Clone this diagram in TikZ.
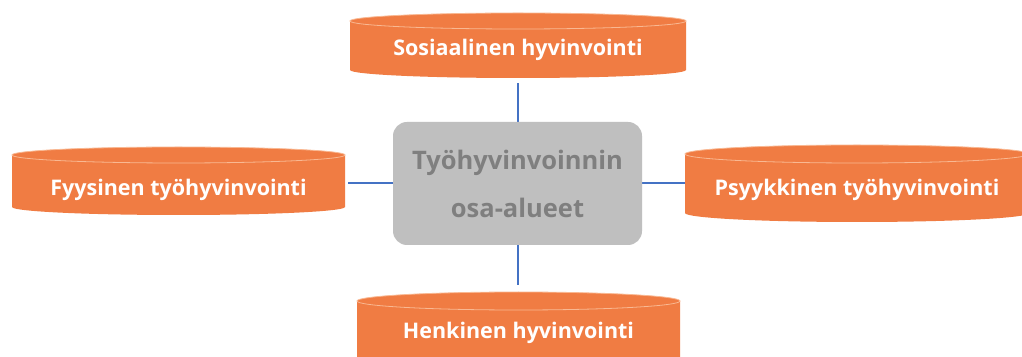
\documentclass[tikz,border=0pt]{standalone}
\usepackage{fontspec}
\setmainfont{Open Sans}
\usetikzlibrary{backgrounds}
\definecolor{cylorange}{HTML}{F07C43}
\definecolor{cylrim}{HTML}{F9B892}
\definecolor{boxgray}{HTML}{BFBFBF}
\definecolor{boxtext}{HTML}{7F7F7F}
\definecolor{linkblue}{HTML}{4472C4}
\tikzset{
  cyltext/.style={inner sep=0pt, text=white, font=\bfseries\fontsize{21.5}{24}\selectfont},
  centerbox/.style={rounded corners=14pt, fill=boxgray, text=boxtext, align=center,
    font=\bfseries\fontsize{25.5}{48}\selectfont, minimum width=249pt, minimum height=123pt, inner sep=0pt},
  link/.style={draw=linkblue, line width=2pt},
  cylbody/.style={fill=cylorange},
  cylrimline/.style={draw=cylrim, line width=0.8pt}
}
% #1 left x, #2 right x, #3 top ellipse centre y, #4 bottom ellipse centre y, #5 y radius
\newcommand\mycylinder[5]{%
  \fill[cylbody] (#1,#3) -- (#1,#4)
    arc[start angle=180, end angle=360, x radius={(#2-#1)/2}, y radius=#5]
    -- (#2,#3)
    arc[start angle=0, end angle=180, x radius={(#2-#1)/2}, y radius=#5] -- cycle;
  \draw[cylrimline] ({(#1+#2)/2},#3) ellipse[x radius={(#2-#1)/2}, y radius=#5];
}
\begin{document}
\begin{tikzpicture}[x=1pt,y=1pt]
\path[use as bounding box, clip] (0,0) rectangle (1022,356);

\node[centerbox] (ctr) at (517.5,172.5) {Työhyvinvoinnin\\osa-alueet};

\node[cyltext, minimum width=336pt, minimum height=56pt] (soc) at (518,306) {Sosiaalinen hyvinvointi};
\node[cyltext, minimum width=333pt, minimum height=50pt] (fys) at (178.5,166) {Fyysinen työhyvinvointi};
\node[cyltext, minimum width=344pt, minimum height=50pt] (psy) at (857,166) {Psyykkinen työhyvinvointi};
\node[cyltext, minimum width=323pt, minimum height=82pt] (hen) at (518.5,23) {Henkinen hyvinvointi};

\begin{scope}[on background layer]
  \fill[white] (0,0) rectangle (1022,356);
  \mycylinder{350}{686}{335}{286}{8}
  \mycylinder{12}{345}{201}{149}{8}
  \mycylinder{685}{1029}{202}{143}{9}
  \mycylinder{357}{680}{55}{-9}{9}
  \draw[link, shorten <=5pt] (ctr.north |- soc.south) -- (ctr.north);
  \draw[link, shorten >=7pt] (ctr.south) -- (ctr.south |- hen.north);
  \draw[link, shorten >=3pt] (ctr.west) -- (ctr.west -| fys.east);
  \draw[link] (ctr.east) -- (ctr.east -| psy.west);
\end{scope}
\end{tikzpicture}
\end{document}
